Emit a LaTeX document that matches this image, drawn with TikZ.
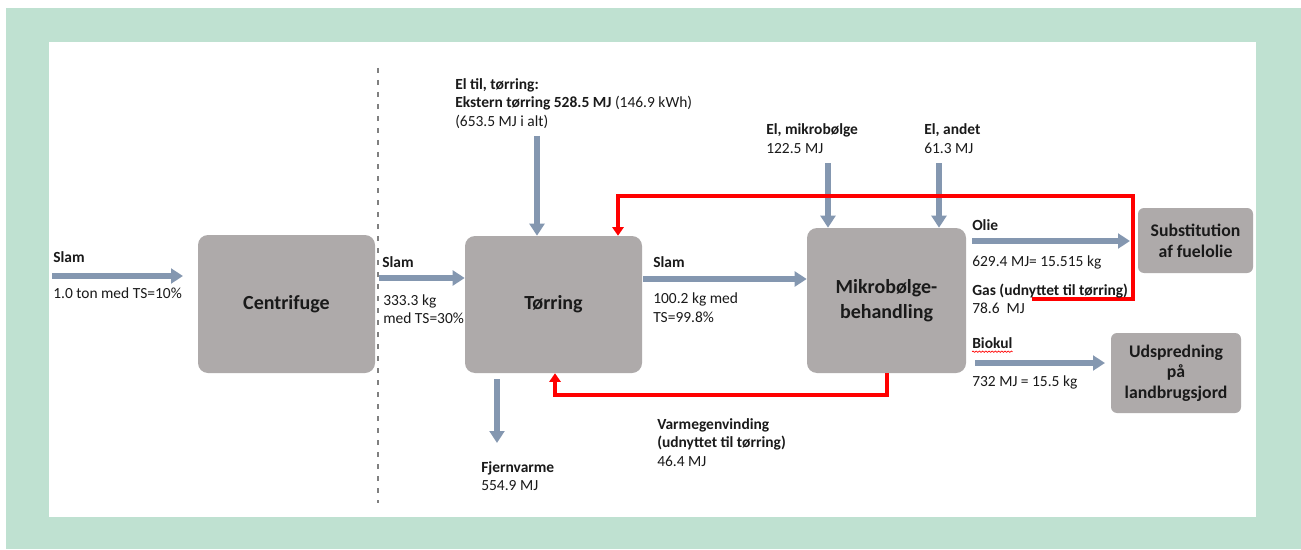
\documentclass[tikz,border=0pt]{standalone}
\usepackage{fontspec}
\setmainfont{Carlito}
\usetikzlibrary{arrows.meta,decorations.pathmorphing}
\definecolor{framegreen}{HTML}{BFE1D1}
\definecolor{boxgray}{HTML}{AEAAAA}
\definecolor{flowblue}{HTML}{8497B0}
\definecolor{ink}{HTML}{1A1A1A}
\definecolor{heatred}{HTML}{FF0000}
\tikzset{
  proc/.style={fill=boxgray, draw=none, rounded corners=7.5pt, inner sep=0pt,
    align=center, text=ink, font=\fontsize{15}{18.75}\selectfont\bfseries},
  smallproc/.style={proc, rounded corners=4.5pt,
    font=\fontsize{13.3}{15.5}\selectfont\bfseries},
  flow/.style={draw=flowblue, line width=4.5pt,
    -{Triangle[width=11pt,length=9pt]}},
  heat/.style={draw=heatred, line width=2.7pt, line join=miter,
    -{Triangle[width=8.5pt,length=6.5pt]}},
  lbl/.style={anchor=west, inner sep=0pt, align=left, text=ink,
    font=\fontsize{11.6}{13.9}\selectfont},
  divider/.style={draw=gray, line width=1pt, dash pattern=on 4pt off 5pt}
}
\begin{document}
\begin{tikzpicture}[x=0.75pt,y=-0.75pt]
  \useasboundingbox (0,0) rectangle (1301,549);
  % frame
  \fill[framegreen] (6,8) rectangle (1301,549);
  \fill[white] (49,42) rectangle (1256,517);

  % process boxes
  \node[proc, minimum width=132.75pt, minimum height=103.5pt] (cent) at (286.5,304) {Centrifuge};
  \node[proc, minimum width=132.75pt, minimum height=102.75pt] (toer) at (553.5,304.5) {Tørring};
  \node[proc, minimum width=119.25pt, minimum height=108.75pt] (mikro) at (886.5,300.5) {Mikrobølge-\\behandling};
  \node[smallproc, minimum width=86.25pt, minimum height=48.75pt] (subst) at (1195.5,240.5) {Substitution\\af fuelolie};
  \node[smallproc, minimum width=97.5pt, minimum height=60pt] (udsp) at (1176,373) {Udspredning\\på\\landbrugsjord};

  % system boundary
  \coordinate (divtop) at (378,68);
  \coordinate (divbot) at (378,503);
  \draw[divider] (divtop) -- (divbot);

  % sludge flow
  \coordinate (slamA) at (52,276);
  \coordinate (slamB) at (183,276);
  \draw[flow] (slamA) -- (slamB);
  \coordinate (slamC) at (379,278);
  \draw[flow] (slamC) -- (slamC -| toer.west);
  \coordinate (slamD) at (643,279);
  \draw[flow] (slamD) -- (slamD -| mikro.west);

  % electricity inputs
  \coordinate (elT) at (537,136);
  \draw[flow] (elT) -- (elT |- toer.north);
  \coordinate (elM) at (828,163);
  \draw[flow] (elM) -- (elM |- mikro.north);
  \coordinate (elA) at (939,163);
  \draw[flow] (elA) -- (elA |- mikro.north);

  % products
  \coordinate (olieA) at (972,241);
  \coordinate (olieB) at (1130,241);
  \draw[flow] (olieA) -- (olieB);
  \coordinate (bioA) at (975,363);
  \coordinate (bioB) at (1105,363);
  \draw[flow] (bioA) -- (bioB);
  \coordinate (fjA) at (497,379);
  \coordinate (fjB) at (497,443);
  \draw[flow] (fjA) -- (fjB);

  % heat recovery loops
  \coordinate (gasA) at (1032,299);
  \coordinate (gasR) at (1133,299);
  \coordinate (gasT) at (1133,196);
  \coordinate (gasL) at (618,196);
  \draw[heat] (gasA) -- (gasR) -- (gasT) -- (gasL) -- (gasL |- toer.north);
  \coordinate (varR) at (887,395);
  \coordinate (varL) at (555,395);
  \draw[heat] (varR |- mikro.south) -- (varR) -- (varL) -- (varL |- toer.south);

  % labels
  \node[lbl] (l1) at (53,257) {\textbf{Slam}};
  \node[lbl] (l2) at (53,293) {1.0 ton med TS=10\%};
  \node[lbl] (l3) at (382,262) {\textbf{Slam}};
  \node[lbl] (l4) at (383,309) {333.3 kg\\med TS=30\%};
  \node[lbl] (l5) at (653,262) {\textbf{Slam}};
  \node[lbl] (l6) at (653,307.5) {100.2 kg med\\TS=99.8\%};
  \node[lbl] (l7) at (455,103.5) {\textbf{El til, tørring:}\\\textbf{Ekstern tørring 528.5 MJ} (146.9 kWh)\\(653.5 MJ i alt)};
  \node[lbl] (l8) at (766,138.5) {\textbf{El, mikrobølge}\\122.5 MJ};
  \node[lbl] (l9) at (924,138.5) {\textbf{El, andet}\\61.3 MJ};
  \node[lbl] (l10) at (972,225) {\textbf{Olie}};
  \node[lbl] (l11) at (972,262) {629.4 MJ= 15.515 kg};
  \node[lbl] (l12) at (972,299) {\textbf{Gas (udnyttet til tørring)}\\78.6\ \ MJ};
  \node[lbl] (l13) at (972,343) {\textbf{Biokul}};
  \draw[heatred, line width=0.5pt, decorate,
    decoration={snake, amplitude=0.5pt, segment length=2.4pt}]
    ([yshift=-2.2pt]l13.south west) -- ([yshift=-2.2pt]l13.south east);
  \node[lbl] (l14) at (972,382) {732 MJ = 15.5 kg};
  \node[lbl] (l15) at (481,476) {\textbf{Fjernvarme}\\554.9 MJ};
  \node[lbl] (l16) at (657,442.5) {\textbf{Varmegenvinding}\\\textbf{(udnyttet til tørring)}\\46.4 MJ};
\end{tikzpicture}
\end{document}
